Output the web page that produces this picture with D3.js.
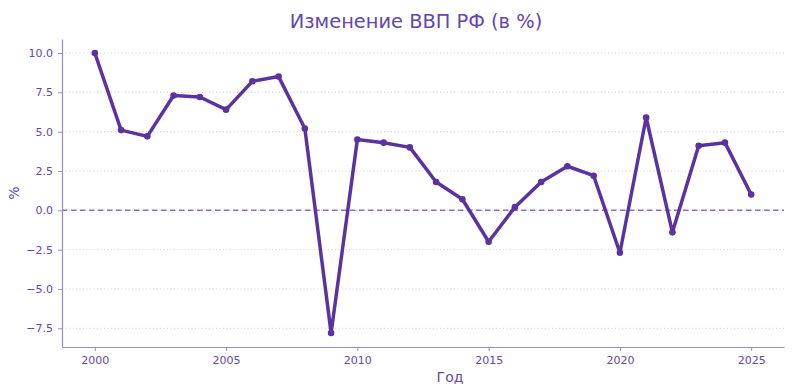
<!DOCTYPE html>
<html><head><meta charset="utf-8">
<script src="https://cdn.jsdelivr.net/npm/d3@7"></script>
<style>body{margin:0;background:#fff}svg{display:block}text{font-family:"DejaVu Sans",sans-serif}</style>
</head><body><svg id="c" width="792" height="392"></svg>
<script>
const years = [2000,2001,2002,2003,2004,2005,2006,2007,2008,2009,2010,2011,2012,2013,2014,2015,2016,2017,2018,2019,2020,2021,2022,2023,2024,2025];
const gdpChange = [10.0,5.1,4.7,7.3,7.2,6.4,8.2,8.5,5.2,-7.8,4.5,4.3,4.0,1.8,0.7,-2.0,0.2,1.8,2.8,2.2,-2.7,5.9,-1.4,4.1,4.3,1.0];
const xTicks = [2000,2005,2010,2015,2020,2025];
const yTicks = [-7.5,-5.0,-2.5,0.0,2.5,5.0,7.5,10.0];
const title = "Изменение ВВП РФ (в %)";
const xLabel = "Год", yLabel = "%";

const svg = d3.select("#c");
const L = 62, R = 784, T = 39, B = 347;
const x = d3.scaleLinear().domain([1998.75, 2026.25]).range([L, R]);
const yMin = -7.8 - 0.89, yMax = 10.0 + 0.89;
const y = d3.scaleLinear().domain([yMin, yMax]).range([B, T]);

const textCol = "#6446ad", axisCol = "#9c89cc", lineCol = "#5a33a0";

// grid
svg.append("g").selectAll("line").data(yTicks).join("line")
  .attr("x1", L).attr("x2", R).attr("y1", d => y(d)).attr("y2", d => y(d))
  .attr("stroke", "#d3cae8").attr("stroke-width", 1).attr("stroke-dasharray", "1,2.5");

// zero line
svg.append("line").attr("x1", L).attr("x2", R).attr("y1", y(0)).attr("y2", y(0))
  .attr("stroke", "#8a72c2").attr("stroke-width", 1.5).attr("stroke-dasharray", "5.5,3.5");

// axes
const xa = svg.append("g").attr("transform", `translate(0,${B})`)
  .call(d3.axisBottom(x).tickValues(xTicks).tickFormat(d3.format("d")).tickSize(4).tickSizeOuter(0).tickPadding(5));
const ya = svg.append("g").attr("transform", `translate(${L},0)`)
  .call(d3.axisLeft(y).tickValues(yTicks).tickFormat(d => d3.format(".1f")(d).replace("-", "−")).tickSize(4).tickSizeOuter(0).tickPadding(5));
[xa, ya].forEach(g => {
  g.select(".domain").attr("stroke", axisCol).attr("stroke-width", 1.2);
  g.selectAll(".tick line").attr("stroke", axisCol);
  g.selectAll(".tick text").attr("fill", textCol).attr("font-size", 11).attr("font-family", "DejaVu Sans");
});

// line
svg.append("path").datum(years.map((yr, i) => [yr, gdpChange[i]]))
  .attr("fill", "none").attr("stroke", lineCol).attr("stroke-width", 3.5).attr("stroke-linejoin", "round")
  .attr("d", d3.line().x(d => x(d[0])).y(d => y(d[1])));
svg.append("g").selectAll("circle").data(years.map((yr, i) => [yr, gdpChange[i]])).join("circle")
  .attr("cx", d => x(d[0])).attr("cy", d => y(d[1])).attr("r", 3.3).attr("fill", lineCol);

// labels
svg.append("text").attr("x", 416).attr("y", 28).attr("text-anchor", "middle")
  .attr("font-family", "Noto Sans").attr("font-weight", 500)
  .attr("font-size", 19.4).attr("fill", textCol).text(title);
svg.append("text").attr("x", 450).attr("y", 382).attr("text-anchor", "middle")
  .attr("font-family", "Noto Sans")
  .attr("font-size", 14).attr("fill", textCol).text(xLabel);
svg.append("text").attr("transform", `translate(19,${(T+B)/2}) rotate(-90)`).attr("text-anchor", "middle")
  .attr("font-family", "Noto Sans")
  .attr("font-size", 14).attr("fill", textCol).text(yLabel);
</script></body></html>
